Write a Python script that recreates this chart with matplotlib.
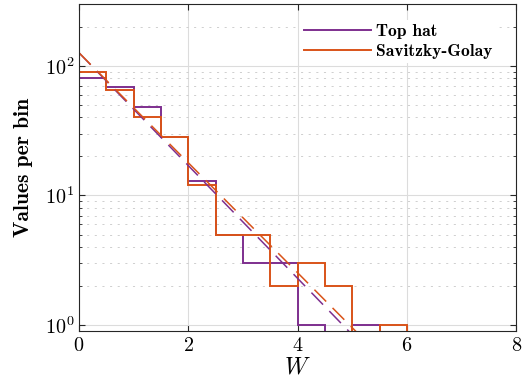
import matplotlib
matplotlib.use("Agg")
import matplotlib.pyplot as plt
import numpy as np
from matplotlib.ticker import LogLocator, FixedLocator

plt.rcParams['mathtext.fontset'] = 'cm'
plt.rcParams['lines.scale_dashes'] = False

# histogram bin edges (bin width 0.5)
bin_edges = [0, 0.5, 1, 1.5, 2, 2.5, 3, 3.5, 4, 4.5, 5, 5.5, 6]
# counts per bin (0 = empty bin)
top_hat = [80, 69, 48, 28, 13, 5, 3, 3, 1, 0, 1, 0]
savgol = [90, 65, 40, 28, 12, 5, 5, 2, 3, 2, 0, 1]

# exponential fit lines (straight on log axis), endpoints
fit_w = [0, 6]
fit_top_hat = [126, 0.31]
fit_savgol = [126, 0.36]

PURPLE = '#7E2F8E'
ORANGE = '#D95319'

fig = plt.figure(figsize=(5.23, 3.90), dpi=100)
ax = fig.add_axes([0.151, 0.151, 0.836, 0.839])

ax.set_yscale('log')

# stairs, starting from the bottom of the axes
ax.stairs(np.where(np.array(top_hat) > 0, top_hat, 1e-3), bin_edges,
          baseline=1e-3, color=PURPLE, lw=1.4, label='Top hat')
ax.stairs(np.where(np.array(savgol) > 0, savgol, 1e-3), bin_edges,
          baseline=1e-3, color=ORANGE, lw=1.4, label='Savitzky-Golay')

ax.plot(fit_w, fit_top_hat, color=PURPLE, lw=1.1, dashes=(12, 6.5))
ax.plot(fit_w, fit_savgol, color=ORANGE, lw=1.1, dashes=(12, 6.5))

ax.set_xlim(0, 8)
ax.set_ylim(0.9, 300)

ax.xaxis.set_major_locator(FixedLocator([0, 2, 4, 6, 8]))
ax.yaxis.set_major_locator(FixedLocator([1, 10, 100]))
ax.yaxis.set_minor_locator(LogLocator(base=10, subs=np.arange(2, 10)))
ax.set_xticklabels([r'$\mathbf{%d}$' % v for v in [0, 2, 4, 6, 8]])
ax.set_yticklabels([r'$\mathbf{10^{%d}}$' % v for v in [0, 1, 2]])
ax.yaxis.set_minor_formatter(plt.NullFormatter())

ax.tick_params(which='both', direction='in', top=True, right=True,
               color='#262626', labelsize=14.5)
ax.tick_params(which='major', length=4, width=0.8)
ax.tick_params(which='minor', length=2.5, width=0.6)
for s in ax.spines.values():
    s.set_color('#262626')
    s.set_linewidth(0.8)

ax.grid(True, which='major', color='#dcdcdc', lw=0.8, ls='-')
ax.grid(True, which='minor', axis='y', color='#c8c8c8', lw=0.6, ls=(0, (1.5, 4)))
ax.set_axisbelow(True)

ax.set_xlabel(r'$W$', fontsize=17, labelpad=0)
ax.set_ylabel('Values per bin', family='cmb10', fontsize=15.5, labelpad=8)

leg = ax.legend(loc='upper left', bbox_to_anchor=(0.507, 0.95),
                prop={'family': 'cmb10', 'size': 12.6}, frameon=True,
                fancybox=False, handlelength=3.8, handletextpad=0.3,
                borderaxespad=0, borderpad=0.2, labelspacing=0.28)
leg.get_frame().set_edgecolor('none')
leg.get_frame().set_facecolor('white')
leg.get_frame().set_alpha(1)

fig.savefig('out.png', dpi=100)
